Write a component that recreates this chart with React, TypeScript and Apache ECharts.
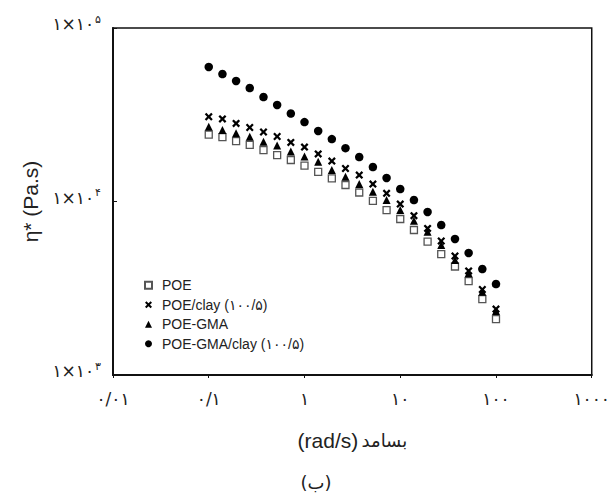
import { useEffect, useRef } from 'react';
import * as echarts from 'echarts';

const frequency = [0.1, 0.139, 0.193, 0.268, 0.373, 0.518, 0.72, 1, 1.39, 1.93, 2.68, 3.73, 5.18, 7.2, 10, 13.9, 19.3, 26.8, 37.3, 51.8, 72, 100];
const poe = [24300, 23500, 22300, 21200, 19800, 18500, 17350, 16100, 14800, 13600, 12450, 11270, 10070, 8930, 7930, 6850, 5870, 4980, 4220, 3480, 2740, 2100];
const poeClay = [30800, 29900, 28200, 26700, 25150, 23700, 21900, 20600, 18800, 17100, 15500, 14200, 12600, 11150, 9670, 8280, 7000, 5920, 4850, 3980, 3110, 2400];
const poeGma = [27000, 25800, 24700, 23600, 22100, 21000, 19400, 18200, 16960, 15200, 13900, 12600, 11400, 10200, 8930, 7750, 6700, 5620, 4600, 3860, 3020, 2340];
const poeGmaClay = [59600, 54300, 49500, 45100, 40000, 36000, 32150, 28700, 25500, 22900, 20300, 18050, 15800, 13660, 11800, 10200, 8700, 7320, 6080, 5050, 4080, 3345];

const seriesNames = ['POE', 'POE/clay (۱۰۰/۵)', 'POE-GMA', 'POE-GMA/clay (۱۰۰/۵)'];

const xTickValues = [0.01, 0.1, 1, 10, 100, 1000];
const xTickLabels = ['۰/۰۱', '۰/۱', '۱', '۱۰', '۱۰۰', '۱۰۰۰'];
const yTickValues = [1000, 10000, 100000];
const yTickExponents = ['۳', '۴', '۵'];

const xAxisUnit = '(rad/s)';
const xAxisWord = 'بسامد';
const yAxisTitle = 'η* (Pa.s)';
const caption = '(ب)';

const crossPath = 'path://M0,2L2,0L5,3L8,0L10,2L7,5L10,8L8,10L5,7L2,10L0,8L3,5Z';

function findTick(values: number[], v: number) {
  for (let i = 0; i < values.length; i++) {
    if (Math.abs(Math.log10(values[i]) - Math.log10(v)) < 1e-6) return i;
  }
  return -1;
}

export default function App() {
  const ref = useRef<HTMLDivElement>(null);
  useEffect(() => {
    document.body.style.margin = '0';
    if (!ref.current) return;
    const chart = echarts.init(ref.current, null, { renderer: 'svg' });
    const pairs = (ys: number[]) => frequency.map((f, i) => [f, ys[i]]);
    const persian = 'DejaVu Sans, sans-serif';
    const latin = 'Liberation Sans, DejaVu Sans, sans-serif';
    chart.setOption({
      animation: false,
      backgroundColor: '#fff',
      grid: {
        left: 113, right: 20, top: 28, bottom: 118,
        show: true, borderColor: '#111', borderWidth: 1.5, backgroundColor: 'transparent',
      },
      xAxis: {
        type: 'log', logBase: 10, min: 0.01, max: 1000,
        axisLine: { show: true, lineStyle: { color: '#111', width: 2 } },
        axisTick: { show: true, inside: false, length: 3, lineStyle: { color: '#111', width: 1 } },
        minorTick: { show: false },
        splitLine: { show: false },
        axisLabel: {
          margin: 15,
          fontSize: 17, fontFamily: persian, color: '#222',
          formatter: (v: number) => {
            const i = findTick(xTickValues, v);
            return i >= 0 ? xTickLabels[i] : '';
          },
        },
        name: '{u|' + xAxisUnit + '} {w|' + xAxisWord + '}',
        nameLocation: 'middle',
        nameGap: 55,
        nameTextStyle: {
          color: '#222',
          rich: {
            u: { fontSize: 21, fontFamily: latin, color: '#222' },
            w: { fontSize: 18, fontFamily: persian, color: '#222' },
          },
        },
      },
      yAxis: {
        type: 'log', logBase: 10, min: 1000, max: 100000,
        axisLine: { show: true, lineStyle: { color: '#111', width: 2 } },
        axisTick: { show: true, inside: true, length: 4, lineStyle: { color: '#111', width: 1 } },
        splitLine: { show: false },
        axisLabel: {
          margin: 12,
          color: '#222',
          padding: [0, 0, 8, 0],
          formatter: (v: number) => {
            const i = findTick(yTickValues, v);
            return i >= 0 ? '{a|۱×۱۰}{b|' + yTickExponents[i] + '}' : '';
          },
          rich: {
            a: { fontSize: 17, fontFamily: persian, color: '#222' },
            b: { fontSize: 11, fontFamily: persian, color: '#222', padding: [0, 0, 10, 1] },
          },
        },
        name: yAxisTitle,
        nameLocation: 'middle',
        nameGap: 72,
        nameTextStyle: { fontSize: 21, fontFamily: latin, color: '#222' },
      },
      legend: {
        orient: 'vertical',
        left: 139, top: 272,
        itemWidth: 7, itemHeight: 7, itemGap: 3,
        data: seriesNames,
        textStyle: { fontSize: 14, fontFamily: latin, color: '#222', lineHeight: 16.5, padding: [0, 0, 0, 5] },
      },
      series: [
        {
          name: seriesNames[0], type: 'scatter', data: pairs(poe), symbol: 'rect', symbolSize: 7,
          itemStyle: { color: '#fff', borderColor: '#555', borderWidth: 1.3, opacity: 1 }, z: 2,
        },
        {
          name: seriesNames[1], type: 'scatter', data: pairs(poeClay), symbol: crossPath, symbolSize: 8,
          itemStyle: { color: '#000', opacity: 1 }, z: 4,
        },
        {
          name: seriesNames[2], type: 'scatter', data: pairs(poeGma), symbol: 'triangle', symbolSize: 8,
          itemStyle: { color: '#000', opacity: 1 }, z: 3,
        },
        {
          name: seriesNames[3], type: 'scatter', data: pairs(poeGmaClay), symbol: 'circle', symbolSize: 8.5,
          itemStyle: { color: '#000', opacity: 1 }, z: 5,
        },
      ],
      graphic: [
        {
          type: 'text', x: 316, y: 482,
          style: { text: caption, fontSize: 18, fontFamily: persian, fill: '#222', textAlign: 'center', textVerticalAlign: 'middle' },
        },
      ],
    });
    return () => chart.dispose();
  }, []);
  return <div ref={ref} style={{ width: 613, height: 493 }} />;
}
